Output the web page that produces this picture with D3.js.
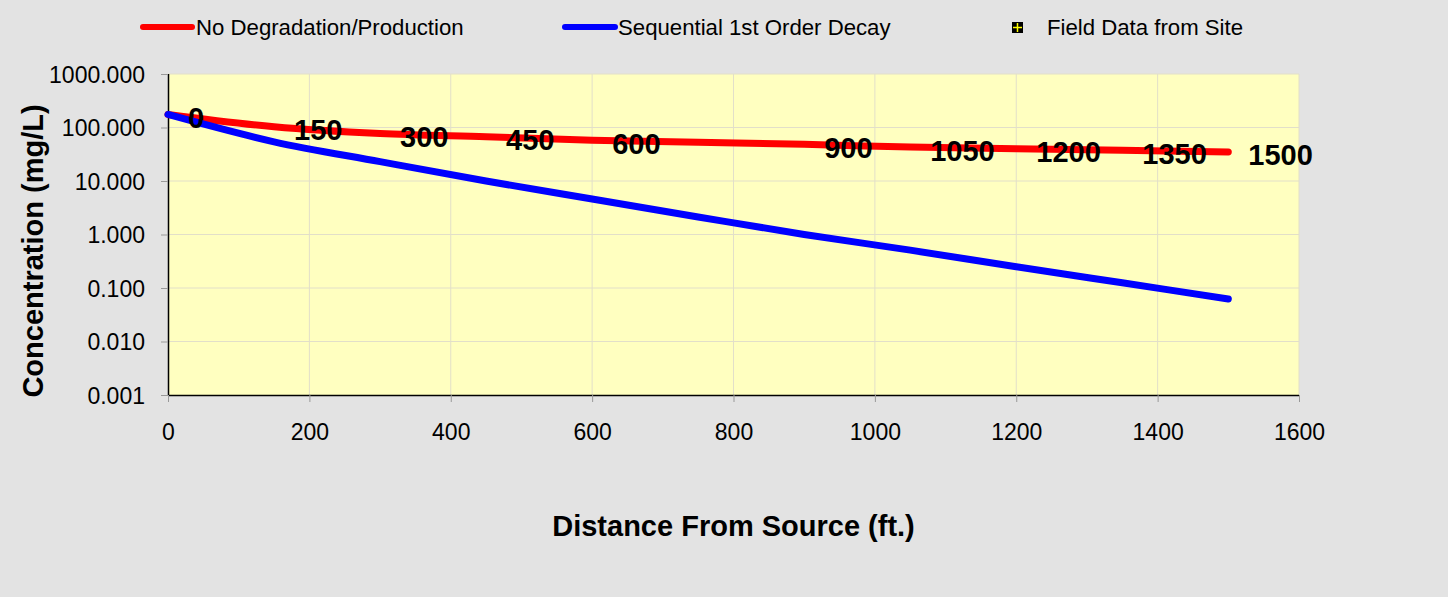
<!DOCTYPE html>
<html><head><meta charset="utf-8">
<script src="https://cdn.jsdelivr.net/npm/d3@7"></script>
<style>
html,body{margin:0;padding:0;background:#e3e3e3;}
svg{display:block;font-family:"Liberation Sans",Arial,sans-serif;}
</style></head>
<body>
<svg id="chart" width="1448" height="597"></svg>
<script>
// ---- data ----
const distances = [0, 150, 300, 450, 600, 750, 900, 1050, 1200, 1350, 1500];
const noDegradation = [175, 103, 77, 67, 58, 53, 48.5, 43, 40, 37.5, 35];
const sequentialDecay = [175, 54, 23, 10, 4.6, 2.13, 1.0, 0.51, 0.25, 0.125, 0.0625];
const fieldData = []; // no field data points shown
const pointLabels = ["0", "150", "300", "450", "600", "", "900", "1050", "1200", "1350", "1500"];
const xTicks = [0, 200, 400, 600, 800, 1000, 1200, 1400, 1600];
const yTicks = [0.001, 0.01, 0.1, 1, 10, 100, 1000];
const seriesNames = ["No Degradation/Production", "Sequential 1st Order Decay", "Field Data from Site"];

// ---- layout ----
const svg = d3.select("#chart");
const L = 168, R = 1299, T = 74, B = 395;
const x = d3.scaleLinear().domain([0, 1600]).range([L, R]);
const y = d3.scaleLog().domain([0.001, 1000]).range([B, T]);

svg.append("rect").attr("width", 1448).attr("height", 597).attr("fill", "#e3e3e3");
svg.append("rect").attr("x", L).attr("y", T).attr("width", R - L).attr("height", B - T).attr("fill", "#ffffc0");

// gridlines
const grid = svg.append("g");
grid.selectAll("line.h").data(yTicks.slice(1)).enter().append("line")
  .attr("x1", L).attr("x2", R).attr("y1", d => y(d)).attr("y2", d => y(d))
  .attr("stroke", "#e2dfc9").attr("stroke-width", 1);
grid.selectAll("line.v").data(xTicks.slice(1)).enter().append("line")
  .attr("y1", T).attr("y2", B).attr("x1", d => x(d)).attr("x2", d => x(d))
  .attr("stroke", "#e2dfc9").attr("stroke-width", 1);

// axes
const xAxis = svg.append("g").attr("transform", `translate(0,${B})`)
  .call(d3.axisBottom(x).tickValues(xTicks).tickSize(7).tickPadding(22).tickFormat(d3.format("d")));
const yAxis = svg.append("g").attr("transform", `translate(${L},0)`)
  .call(d3.axisLeft(y).tickValues(yTicks).tickSize(7).tickPadding(16).tickFormat(d3.format(".3f")));
[xAxis, yAxis].forEach(a => {
  a.select(".domain").attr("stroke", "#000").attr("stroke-width", 1.5);
  a.selectAll(".tick line").attr("stroke", "#999");
  a.selectAll(".tick text").attr("fill", "#000").style("font-size", "23px")
   .style("font-family", "'Liberation Sans', Arial, sans-serif");
});
yAxis.selectAll(".tick text").attr("dy", "0.36em");
xAxis.select(".domain").attr("d", `M${L},0.5H${R}`);
yAxis.select(".domain").attr("d", `M0.5,${B}V${T}`);

// lines
const line = d3.line().x((d, i) => x(distances[i])).y(d => y(d)).curve(d3.curveCatmullRom.alpha(0.5));
svg.append("path").datum(noDegradation).attr("d", line)
  .attr("fill", "none").attr("stroke", "#ff0000").attr("stroke-width", 7).attr("stroke-linecap", "round");
svg.append("path").datum(sequentialDecay).attr("d", line)
  .attr("fill", "none").attr("stroke", "#0000ff").attr("stroke-width", 7).attr("stroke-linecap", "round");

// point labels
svg.append("g").selectAll("text").data(pointLabels).enter().append("text")
  .attr("x", (d, i) => x(distances[i]) + 20)
  .attr("y", (d, i) => y(noDegradation[i]) + 3)
  .attr("dy", "0.36em")
  .attr("font-size", 29).attr("font-weight", "bold").attr("fill", "#000")
  .text(d => d);

// axis titles
svg.append("text").attr("x", (L + R) / 2).attr("y", 526).attr("dy", "0.36em")
  .attr("text-anchor", "middle").attr("font-size", 29).attr("font-weight", "bold")
  .text("Distance From Source (ft.)");
svg.append("text").attr("transform", "translate(33,251) rotate(-90)").attr("dy", "0.36em")
  .attr("text-anchor", "middle").attr("font-size", 29).attr("font-weight", "bold")
  .text("Concentration (mg/L)");

// legend
const leg = svg.append("g");
leg.append("line").attr("x1", 143).attr("x2", 192).attr("y1", 27).attr("y2", 27)
  .attr("stroke", "#ff0000").attr("stroke-width", 6).attr("stroke-linecap", "round");
leg.append("text").attr("x", 196).attr("y", 27).attr("dy", "0.36em").attr("font-size", 22.2).text(seriesNames[0]);
leg.append("line").attr("x1", 565).attr("x2", 615).attr("y1", 27).attr("y2", 27)
  .attr("stroke", "#0000ff").attr("stroke-width", 6).attr("stroke-linecap", "round");
leg.append("text").attr("x", 618).attr("y", 27).attr("dy", "0.36em").attr("font-size", 22.2).text(seriesNames[1]);
leg.append("rect").attr("x", 1012).attr("y", 22).attr("width", 11).attr("height", 11).attr("fill", "#000");
leg.append("line").attr("x1", 1013).attr("x2", 1022).attr("y1", 27.5).attr("y2", 27.5).attr("stroke", "#ffff00").attr("stroke-width", 1.5);
leg.append("line").attr("x1", 1017.5).attr("x2", 1017.5).attr("y1", 23).attr("y2", 32).attr("stroke", "#ffff00").attr("stroke-width", 1.5);
leg.append("text").attr("x", 1047).attr("y", 27).attr("dy", "0.36em").attr("font-size", 22.2).text(seriesNames[2]);

// field data (none plotted)
svg.append("g").selectAll("rect").data(fieldData).enter().append("rect")
  .attr("x", d => x(d[0]) - 5).attr("y", d => y(d[1]) - 5).attr("width", 10).attr("height", 10).attr("fill", "#000");
</script>
</body></html>
